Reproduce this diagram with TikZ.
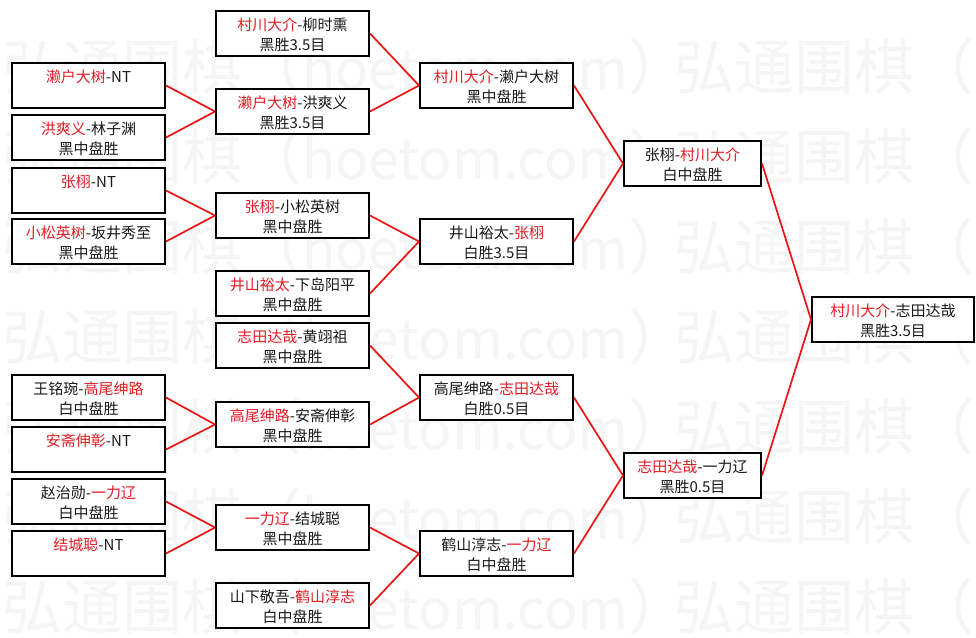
\documentclass[tikz,border=0pt]{standalone}
\usepackage{fontspec}
\setmainfont{Noto Sans CJK SC}
\definecolor{wred}{RGB}{228,28,36}
\definecolor{lred}{RGB}{235,20,20}
\definecolor{wmark}{RGB}{245,245,245}
\definecolor{ink}{RGB}{25,25,25}
\newcommand\rd[1]{\textcolor{wred}{#1}}
\newcommand\wmtext{弘通围棋（{\fontsize{55}{55}\selectfont hoetom.com}）}
% two-line box: name, centre x, top y, width, line 1, line 2
\newcommand\gbtwo[6]{%
  \node[gbox, minimum width=#4pt] (#1) at (#2,#3+22.5) {};
  \node[gtxt] (#1-a) at ([yshift=-15pt]#1.north) {#5};
  \node[gtxt] (#1-b) at ([yshift=-35pt]#1.north) {#6};
}
% one-line box
\newcommand\gbone[5]{%
  \node[gbox, minimum width=#4pt] (#1) at (#2,#3+22.5) {};
  \node[gtxt] (#1-a) at ([yshift=-15pt]#1.north) {#5};
}
\begin{document}
\begin{tikzpicture}[x=1pt,y=-1pt,
  gbox/.style={draw=black, fill=white, line width=2pt, minimum height=45pt, inner sep=0pt, rectangle},
  gtxt/.style={inner sep=0pt, text=ink, font=\fontsize{15}{20}\selectfont, text height=12.5pt, text depth=2pt},
  conn/.style={draw=lred, line width=1.7pt},
  wm/.style={anchor=west, inner sep=0pt, text=wmark, font=\fontsize{60}{60}\selectfont}]
\useasboundingbox (0,0) rectangle (976,637);
\fill[white] (0,0) rectangle (976,637);
% watermark
\foreach \k in {0,...,6}{
  \node[wm] (wma\k) at (2,67+90*\k) {\wmtext};
  \node[wm] (wmb\k) at (674,67+90*\k) {\wmtext};
}
% column A
\gbone{A1}{88.5}{63}{153}{\rd{濑户大树}-NT}
\gbtwo{A2}{88.5}{115}{153}{\rd{洪爽义}-林子渊}{黑中盘胜}
\gbone{A3}{88.5}{168}{153}{\rd{张栩}-NT}
\gbtwo{A4}{88.5}{219}{153}{\rd{小松英树}-坂井秀至}{黑中盘胜}
\gbtwo{A5}{88.5}{375}{153}{王铭琬-\rd{高尾绅路}}{白中盘胜}
\gbone{A6}{88.5}{427}{153}{\rd{安斋伸彰}-NT}
\gbtwo{A7}{88.5}{479}{153}{赵治勋-\rd{一力辽}}{白中盘胜}
\gbone{A8}{88.5}{531}{153}{\rd{结城聪}-NT}
% column B
\gbtwo{B1}{292.5}{11}{153}{\rd{村川大介}-柳时熏}{黑胜3.5目}
\gbtwo{B2}{292.5}{89}{153}{\rd{濑户大树}-洪爽义}{黑胜3.5目}
\gbtwo{B3}{292.5}{193}{153}{\rd{张栩}-小松英树}{黑中盘胜}
\gbtwo{B4}{292.5}{271}{153}{\rd{井山裕太}-下岛阳平}{黑中盘胜}
\gbtwo{B5}{292.5}{323}{153}{\rd{志田达哉}-黄翊祖}{黑中盘胜}
\gbtwo{B6}{292.5}{402}{153}{\rd{高尾绅路}-安斋伸彰}{黑中盘胜}
\gbtwo{B7}{292.5}{505}{153}{\rd{一力辽}-结城聪}{黑中盘胜}
\gbtwo{B8}{292.5}{583}{153}{山下敬吾-\rd{鹤山淳志}}{白中盘胜}
% column C
\gbtwo{C1}{496.5}{63}{153}{\rd{村川大介}-濑户大树}{黑中盘胜}
\gbtwo{C2}{496.5}{219}{153}{井山裕太-\rd{张栩}}{白胜3.5目}
\gbtwo{C3}{496.5}{375}{153}{高尾绅路-\rd{志田达哉}}{白胜0.5目}
\gbtwo{C4}{496.5}{531}{153}{鹤山淳志-\rd{一力辽}}{白中盘胜}
% column D
\gbtwo{D1}{692.5}{141}{137}{张栩-\rd{村川大介}}{白中盘胜}
\gbtwo{D2}{692.5}{453}{137}{\rd{志田达哉}-一力辽}{黑胜0.5目}
% final
\gbtwo{E1}{893}{297}{162}{\rd{村川大介}-志田达哉}{黑胜3.5目}
% connectors
\foreach \a/\b in {A1/B2,A2/B2,A3/B3,A4/B3,A5/B6,A6/B6,A7/B7,A8/B7,
  B1/C1,B2/C1,B3/C2,B4/C2,B5/C3,B6/C3,B7/C4,B8/C4,
  C1/D1,C2/D1,C3/D2,C4/D2,D1/E1,D2/E1}
  \draw[conn] (\a.east) -- (\b.west);
\end{tikzpicture}
\end{document}
